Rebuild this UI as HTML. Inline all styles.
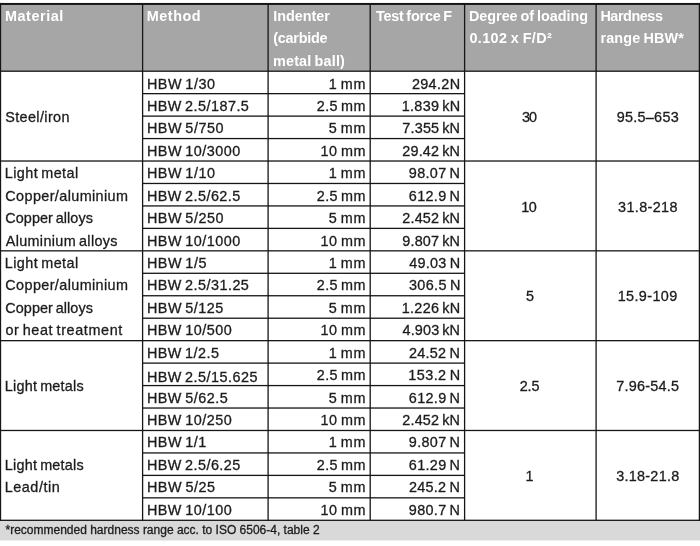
<!DOCTYPE html>
<html><head><meta charset="utf-8"><title>Brinell hardness test methods</title>
<style>
html,body{margin:0;padding:0;background:#fff;}
body{width:700px;height:546px;position:relative;overflow:hidden;font-family:"Liberation Sans",sans-serif;color:#1c1c1c;-webkit-text-stroke:0.3px #1c1c1c;}
#w{position:absolute;left:-20px;top:-20px;width:740px;height:586px;background:#fff;filter:blur(0.45px);}
#c{position:absolute;left:20px;top:20px;width:700px;height:546px;}
svg{position:absolute;left:-10px;top:0;overflow:visible;}
.t,.h,.f{position:absolute;white-space:pre;line-height:22px;height:22px;}
.t{font-size:14.40px;word-spacing:-1.3px;}
.h{font-size:14.40px;font-weight:bold;color:#fff;-webkit-text-stroke:0;word-spacing:-1px;}
.f{font-size:12.00px;}
</style></head><body><div id="w"><div id="c">
<svg width="720" height="546" viewBox="-10 0 720 546">
<rect x="-8" y="3.95" width="716" height="67.25" fill="#a6a6a6"/>
<rect x="-8" y="520.30" width="716" height="20.20" fill="#d9d9d9"/>
<rect x="-8" y="2.95" width="9.15" height="518.00" fill="#161616"/>
<rect x="141.95" y="3.95" width="1.30" height="517.00" fill="#161616"/>
<rect x="267.45" y="3.95" width="1.30" height="517.00" fill="#161616"/>
<rect x="369.55" y="3.95" width="1.30" height="517.00" fill="#161616"/>
<rect x="463.95" y="3.95" width="1.30" height="517.00" fill="#161616"/>
<rect x="595.45" y="3.95" width="1.30" height="517.00" fill="#161616"/>
<rect x="698.75" y="2.95" width="9" height="518.00" fill="#161616"/>
<rect x="-8.00" y="2.95" width="716.00" height="2.00" fill="#161616"/>
<rect x="-8.00" y="70.55" width="716.00" height="1.30" fill="#161616"/>
<rect x="142.60" y="93.00" width="322.00" height="1.30" fill="#161616"/>
<rect x="142.60" y="115.46" width="322.00" height="1.30" fill="#161616"/>
<rect x="142.60" y="137.91" width="322.00" height="1.30" fill="#161616"/>
<rect x="-8.00" y="160.37" width="716.00" height="1.30" fill="#161616"/>
<rect x="142.60" y="182.82" width="322.00" height="1.30" fill="#161616"/>
<rect x="142.60" y="205.28" width="322.00" height="1.30" fill="#161616"/>
<rect x="142.60" y="227.73" width="322.00" height="1.30" fill="#161616"/>
<rect x="-8.00" y="250.19" width="716.00" height="1.30" fill="#161616"/>
<rect x="142.60" y="272.64" width="322.00" height="1.30" fill="#161616"/>
<rect x="142.60" y="295.10" width="322.00" height="1.30" fill="#161616"/>
<rect x="142.60" y="317.56" width="322.00" height="1.30" fill="#161616"/>
<rect x="-8.00" y="340.01" width="716.00" height="1.30" fill="#161616"/>
<rect x="142.60" y="362.46" width="322.00" height="1.30" fill="#161616"/>
<rect x="142.60" y="384.92" width="322.00" height="1.30" fill="#161616"/>
<rect x="142.60" y="407.38" width="322.00" height="1.30" fill="#161616"/>
<rect x="-8.00" y="429.83" width="716.00" height="1.30" fill="#161616"/>
<rect x="142.60" y="452.28" width="322.00" height="1.30" fill="#161616"/>
<rect x="142.60" y="474.74" width="322.00" height="1.30" fill="#161616"/>
<rect x="142.60" y="497.19" width="322.00" height="1.30" fill="#161616"/>
<rect x="-8.00" y="519.65" width="716.00" height="1.30" fill="#161616"/>
</svg>
<div class="h" style="left:5.00px;top:4.91px;letter-spacing:0.564px">Material</div>
<div class="h" style="left:146.80px;top:4.91px;letter-spacing:0.520px">Method</div>
<div class="h" style="left:273.30px;top:4.91px;letter-spacing:-0.023px">Indenter</div>
<div class="h" style="left:273.25px;top:27.21px;letter-spacing:-0.235px">(carbide</div>
<div class="h" style="left:273.00px;top:49.51px;letter-spacing:0.169px">metal ball)</div>
<div class="h" style="left:375.92px;top:4.91px;letter-spacing:-0.214px">Test force F</div>
<div class="h" style="left:469.00px;top:4.91px;letter-spacing:-0.034px">Degree of loading</div>
<div class="h" style="left:469.40px;top:27.21px;letter-spacing:0.404px">0.102 x F/D²</div>
<div class="h" style="left:600.40px;top:4.91px;letter-spacing:-0.440px">Hardness</div>
<div class="h" style="left:600.40px;top:27.21px;letter-spacing:0.139px">range HBW*</div>
<div class="t" style="left:146.89px;top:72.56px;letter-spacing:0.557px">HBW 1/30</div>
<div class="t" style="left:328.79px;top:72.56px;letter-spacing:0.655px">1 mm</div>
<div class="t" style="left:411.89px;top:72.56px;letter-spacing:0.369px">294.2N</div>
<div class="t" style="left:146.89px;top:94.99px;letter-spacing:0.475px">HBW 2.5/187.5</div>
<div class="t" style="left:316.79px;top:94.99px;letter-spacing:0.396px">2.5 mm</div>
<div class="t" style="left:401.69px;top:94.99px;letter-spacing:0.319px">1.839 kN</div>
<div class="t" style="left:146.89px;top:117.42px;letter-spacing:0.557px">HBW 5/750</div>
<div class="t" style="left:328.63px;top:117.42px;letter-spacing:0.763px">5 mm</div>
<div class="t" style="left:402.27px;top:117.42px;letter-spacing:0.202px">7.355 kN</div>
<div class="t" style="left:146.89px;top:139.84px;letter-spacing:0.510px">HBW 10/3000</div>
<div class="t" style="left:320.39px;top:139.84px;letter-spacing:0.600px">10 mm</div>
<div class="t" style="left:402.29px;top:139.84px;letter-spacing:0.196px">29.42 kN</div>
<div class="t" style="left:146.89px;top:162.27px;letter-spacing:0.557px">HBW 1/10</div>
<div class="t" style="left:328.79px;top:162.27px;letter-spacing:0.655px">1 mm</div>
<div class="t" style="left:408.84px;top:162.27px;letter-spacing:0.324px">98.07 N</div>
<div class="t" style="left:146.89px;top:184.70px;letter-spacing:0.469px">HBW 2.5/62.5</div>
<div class="t" style="left:316.79px;top:184.70px;letter-spacing:0.396px">2.5 mm</div>
<div class="t" style="left:408.82px;top:184.70px;letter-spacing:0.329px">612.9 N</div>
<div class="t" style="left:146.89px;top:207.13px;letter-spacing:0.557px">HBW 5/250</div>
<div class="t" style="left:328.63px;top:207.13px;letter-spacing:0.763px">5 mm</div>
<div class="t" style="left:402.29px;top:207.13px;letter-spacing:0.196px">2.452 kN</div>
<div class="t" style="left:146.89px;top:229.56px;letter-spacing:0.513px">HBW 10/1000</div>
<div class="t" style="left:320.39px;top:229.56px;letter-spacing:0.600px">10 mm</div>
<div class="t" style="left:402.24px;top:229.56px;letter-spacing:0.210px">9.807 kN</div>
<div class="t" style="left:146.89px;top:251.98px;letter-spacing:0.550px">HBW 1/5</div>
<div class="t" style="left:328.79px;top:251.98px;letter-spacing:0.655px">1 mm</div>
<div class="t" style="left:409.13px;top:251.98px;letter-spacing:0.307px">49.03 N</div>
<div class="t" style="left:146.89px;top:274.41px;letter-spacing:0.475px">HBW 2.5/31.25</div>
<div class="t" style="left:316.79px;top:274.41px;letter-spacing:0.396px">2.5 mm</div>
<div class="t" style="left:408.90px;top:274.41px;letter-spacing:0.383px">306.5 N</div>
<div class="t" style="left:146.89px;top:296.84px;letter-spacing:0.520px">HBW 5/125</div>
<div class="t" style="left:328.63px;top:296.84px;letter-spacing:0.763px">5 mm</div>
<div class="t" style="left:401.69px;top:296.84px;letter-spacing:0.319px">1.226 kN</div>
<div class="t" style="left:146.89px;top:319.27px;letter-spacing:0.497px">HBW 10/500</div>
<div class="t" style="left:320.39px;top:319.27px;letter-spacing:0.600px">10 mm</div>
<div class="t" style="left:402.53px;top:319.27px;letter-spacing:0.154px">4.903 kN</div>
<div class="t" style="left:146.89px;top:341.70px;letter-spacing:0.492px">HBW 1/2.5</div>
<div class="t" style="left:328.79px;top:341.70px;letter-spacing:0.655px">1 mm</div>
<div class="t" style="left:408.89px;top:341.70px;letter-spacing:0.308px">24.52 N</div>
<div class="t" style="left:146.89px;top:365.62px;letter-spacing:0.489px">HBW 2.5/15.625</div>
<div class="t" style="left:316.79px;top:364.12px;letter-spacing:0.396px">2.5 mm</div>
<div class="t" style="left:408.29px;top:364.12px;letter-spacing:0.446px">153.2 N</div>
<div class="t" style="left:146.89px;top:386.55px;letter-spacing:0.501px">HBW 5/62.5</div>
<div class="t" style="left:328.63px;top:386.55px;letter-spacing:0.763px">5 mm</div>
<div class="t" style="left:408.82px;top:386.55px;letter-spacing:0.329px">612.9 N</div>
<div class="t" style="left:146.89px;top:408.98px;letter-spacing:0.497px">HBW 10/250</div>
<div class="t" style="left:320.39px;top:408.98px;letter-spacing:0.600px">10 mm</div>
<div class="t" style="left:402.29px;top:408.98px;letter-spacing:0.196px">2.452 kN</div>
<div class="t" style="left:146.89px;top:431.41px;letter-spacing:0.526px">HBW 1/1</div>
<div class="t" style="left:328.79px;top:431.41px;letter-spacing:0.655px">1 mm</div>
<div class="t" style="left:408.84px;top:431.41px;letter-spacing:0.324px">9.807 N</div>
<div class="t" style="left:146.89px;top:453.84px;letter-spacing:0.469px">HBW 2.5/6.25</div>
<div class="t" style="left:316.79px;top:453.84px;letter-spacing:0.396px">2.5 mm</div>
<div class="t" style="left:408.82px;top:453.84px;letter-spacing:0.329px">61.29 N</div>
<div class="t" style="left:146.89px;top:476.26px;letter-spacing:0.562px">HBW 5/25</div>
<div class="t" style="left:328.63px;top:476.26px;letter-spacing:0.763px">5 mm</div>
<div class="t" style="left:408.89px;top:476.26px;letter-spacing:0.308px">245.2 N</div>
<div class="t" style="left:146.89px;top:498.69px;letter-spacing:0.497px">HBW 10/100</div>
<div class="t" style="left:320.39px;top:498.69px;letter-spacing:0.600px">10 mm</div>
<div class="t" style="left:408.84px;top:498.69px;letter-spacing:0.324px">980.7 N</div>
<div class="t" style="left:521.95px;top:105.77px;letter-spacing:-0.871px">30</div>
<div class="t" style="left:616.69px;top:105.77px;letter-spacing:0.280px">95.5–653</div>
<div class="t" style="left:521.34px;top:195.59px;letter-spacing:-0.475px">10</div>
<div class="t" style="left:618.05px;top:195.59px;letter-spacing:0.368px">31.8-218</div>
<div class="t" style="left:526.03px;top:285.41px;letter-spacing:0.000px">5</div>
<div class="t" style="left:617.74px;top:285.41px;letter-spacing:0.373px">15.9-109</div>
<div class="t" style="left:519.68px;top:375.23px;letter-spacing:-0.066px">2.5</div>
<div class="t" style="left:616.30px;top:375.23px;letter-spacing:0.235px">7.96-54.5</div>
<div class="t" style="left:525.38px;top:465.05px;letter-spacing:0.000px">1</div>
<div class="t" style="left:616.17px;top:465.05px;letter-spacing:0.282px">3.18-21.8</div>
<div class="t" style="left:5.21px;top:105.77px;letter-spacing:0.383px">Steel/iron</div>
<div class="t" style="left:4.74px;top:162.27px;letter-spacing:0.430px">Light metal</div>
<div class="t" style="left:5.31px;top:184.70px;letter-spacing:0.395px">Copper/aluminium</div>
<div class="t" style="left:5.31px;top:207.13px;letter-spacing:0.077px">Copper alloys</div>
<div class="t" style="left:5.71px;top:229.56px;letter-spacing:0.342px">Aluminium alloys</div>
<div class="t" style="left:4.74px;top:251.98px;letter-spacing:0.430px">Light metal</div>
<div class="t" style="left:5.31px;top:274.41px;letter-spacing:0.395px">Copper/aluminium</div>
<div class="t" style="left:5.31px;top:296.84px;letter-spacing:0.077px">Copper alloys</div>
<div class="t" style="left:5.41px;top:319.27px;letter-spacing:0.616px">or heat treatment</div>
<div class="t" style="left:4.74px;top:375.23px;letter-spacing:0.248px">Light metals</div>
<div class="t" style="left:4.74px;top:453.84px;letter-spacing:0.248px">Light metals</div>
<div class="t" style="left:4.74px;top:476.26px;letter-spacing:0.538px">Lead/tin</div>
<div class="f" style="left:5.52px;top:519.04px;letter-spacing:-0.002px">*recommended hardness range acc. to ISO 6506-4, table 2</div>
</div></div></body></html>
